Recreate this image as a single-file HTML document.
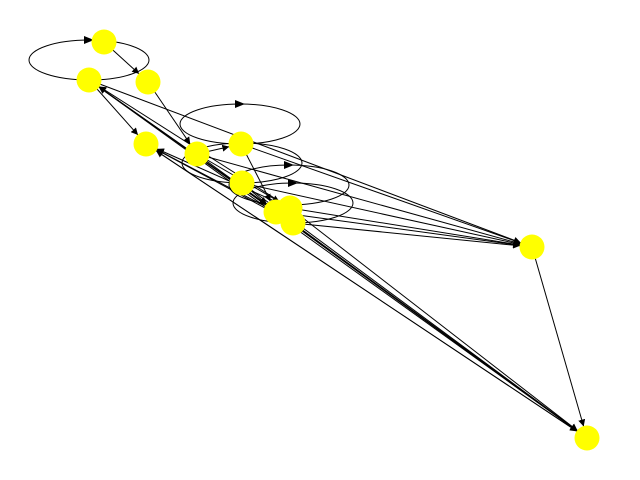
<!DOCTYPE html>
<html><head><meta charset="utf-8"><style>body{margin:0;background:#fff}svg{display:block}</style></head>
<body>
<svg id="g" width="640" height="480" viewBox="0 0 640 480">
<defs><marker id="ar" viewBox="0 0 10 10" refX="10" refY="5" markerWidth="7" markerHeight="7" markerUnits="userSpaceOnUse" orient="auto"><path d="M0,0 L10,5 L0,10 z" fill="#000"/></marker></defs>
<g id="edges"></g><g id="loops"></g><g id="nodes"></g>
</svg>
<script>
const nodeIds = ["A","B","C","D","E","F","G","H","I","J","K","L"];
const nodeX = [104,89,148,146,197,241,242,276,290,293,532,587];
const nodeY = [42,80,82,144,154,144,183,212,208,223,247,438];
const edgeFrom = ["A","B","C","E","F","H","I","J","B","E","G","H","I","J","K","B","E","G","H","I","J","L","H","I","J","G","E","B","F","D"];
const edgeTo   = ["C","D","E","F","H","B","B","B","H","K","K","K","K","K","L","L","L","L","L","L","L","D","D","D","D","H","I","K","K","L"];
const loopCx = [89,240,242,289,293];
const loopCy = [60,124,163,185,203];
const ns="http://www.w3.org/2000/svg";
const E=document.getElementById('edges'),Lp=document.getElementById('loops'),N=document.getElementById('nodes');
const px=id=>nodeX[nodeIds.indexOf(id)], py=id=>nodeY[nodeIds.indexOf(id)];
edgeFrom.forEach((f,i)=>{
  const t=edgeTo[i];const x1=px(f),y1=py(f),x2=px(t),y2=py(t);
  const dx=x2-x1,dy=y2-y1,d=Math.hypot(dx,dy)||1,r=12;
  const l=document.createElementNS(ns,'line');
  l.setAttribute('x1',x1);l.setAttribute('y1',y1);
  l.setAttribute('x2',x2-dx/d*r);l.setAttribute('y2',y2-dy/d*r);
  l.setAttribute('stroke','#000');l.setAttribute('stroke-width','1');l.setAttribute('marker-end','url(#ar)');
  
  
  E.appendChild(l);
});
loopCx.forEach((cx,i)=>{
  const cy=loopCy[i];
  const e=document.createElementNS(ns,'ellipse');
  e.setAttribute('cx',cx);e.setAttribute('cy',cy);e.setAttribute('rx',60);e.setAttribute('ry',20);
  e.setAttribute('fill','none');e.setAttribute('stroke','#000');e.setAttribute('stroke-width','1');
  
  
  Lp.appendChild(e);
  const a=document.createElementNS(ns,'path');
  a.setAttribute('d',`M${cx-5},${cy-24} L${cx+5},${cy-20} L${cx-5},${cy-16} z`);
  a.setAttribute('fill','#000');
  
  
  Lp.appendChild(a);
});
nodeIds.forEach((id,i)=>{
  const c=document.createElementNS(ns,'circle');
  c.setAttribute('cx',nodeX[i]);c.setAttribute('cy',nodeY[i]);c.setAttribute('r',12.5);c.setAttribute('fill','#ffff00');
  
  
  N.appendChild(c);
});
</script>
</body></html>
